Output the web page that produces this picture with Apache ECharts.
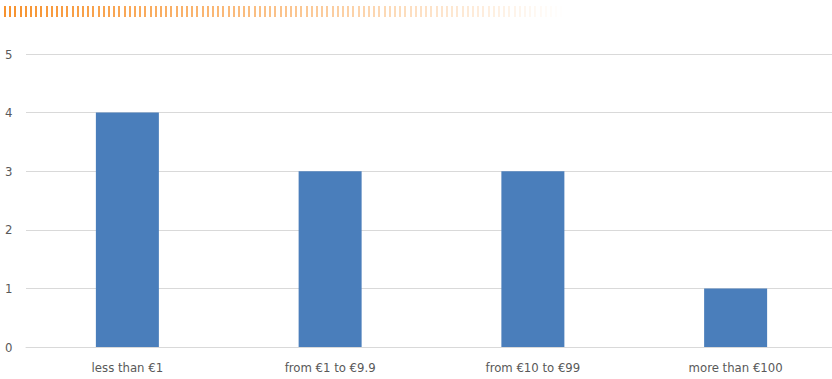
<!DOCTYPE html>
<html>
<head>
<meta charset="utf-8">
<script src="https://cdn.jsdelivr.net/npm/echarts@6/dist/echarts.min.js"></script>
<style>
html,body{margin:0;padding:0;background:#fff;overflow:hidden;width:832px;height:379px;}
#chart{width:837px;height:379px;position:absolute;left:0;top:0;}
#chart svg text{font-stretch:condensed !important;}
#stripe{position:absolute;left:4px;top:6px;width:562px;height:11px;
background:repeating-linear-gradient(90deg,#f7922e 0px,#f7922e 2px,transparent 2px,transparent 5.2px);
-webkit-mask-image:linear-gradient(90deg,rgba(0,0,0,1) 0%,rgba(0,0,0,0.55) 50%,rgba(0,0,0,0) 100%);
mask-image:linear-gradient(90deg,rgba(0,0,0,1) 0%,rgba(0,0,0,0.55) 50%,rgba(0,0,0,0) 100%);
z-index:2;}
</style>
</head>
<body>
<div id="chart"></div>
<div id="stripe"></div>
<script>
var categories = ['less than €1', 'from €1 to €9.9', 'from €10 to €99', 'more than €100'];
var values = [4, 3, 3, 1];
var yTicks = [0, 1, 2, 3, 4, 5];

var font = "'DejaVu Sans'";
var chart = echarts.init(document.getElementById('chart'), null, {renderer: 'svg'});
chart.setOption({
  animation: false,
  grid: {left: 26, right: 0, top: 54, bottom: 32, containLabel: false},
  xAxis: {
    type: 'category',
    data: categories,
    axisLine: {lineStyle: {color: '#d9d9d9', width: 1}},
    axisTick: {show: false},
    axisLabel: {color: '#595959', fontFamily: font, fontSize: 13, margin: 14}
  },
  yAxis: {
    type: 'value',
    min: yTicks[0],
    max: yTicks[yTicks.length - 1],
    interval: 1,
    axisLine: {show: false},
    axisTick: {show: false},
    axisLabel: {color: '#595959', fontFamily: font, fontSize: 13, margin: 21, align: 'left'},
    splitLine: {lineStyle: {color: '#d9d9d9', width: 1}}
  },
  series: [{
    type: 'bar',
    data: values,
    barWidth: 63,
    itemStyle: {color: '#4a7ebb'}
  }]
});
</script>
</body>
</html>
